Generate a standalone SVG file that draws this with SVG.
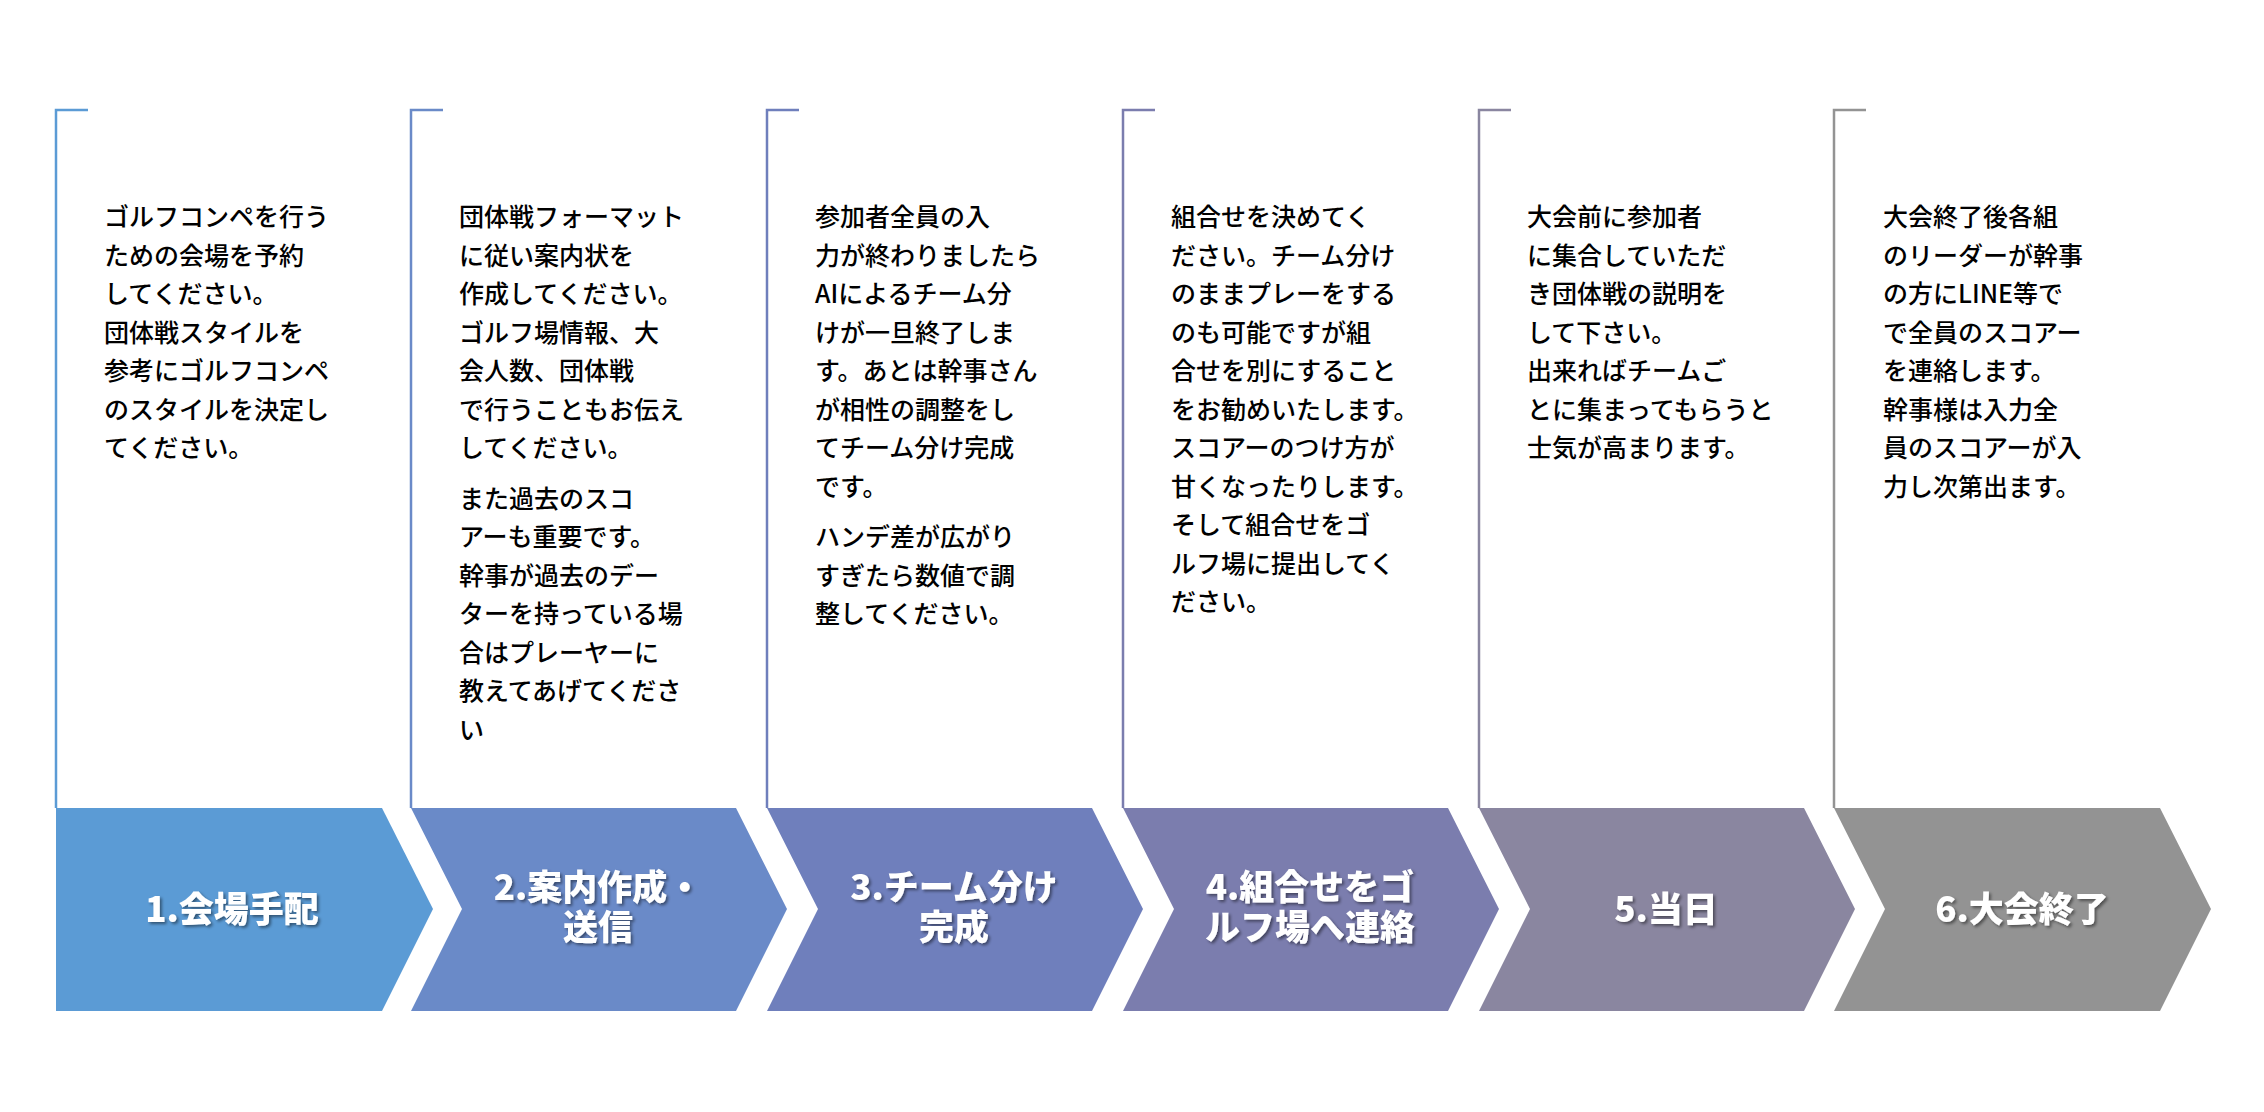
<svg xmlns="http://www.w3.org/2000/svg" width="2264" height="1112" viewBox="0 0 2264 1112">
<defs>
<style>
.t{font-family:"Noto Sans CJK JP","Liberation Sans",sans-serif;font-size:25px;font-weight:500;fill:#000}
.l{font-family:"Noto Sans CJK JP","Liberation Sans",sans-serif;font-size:35px;font-weight:900;fill:#fff;text-anchor:middle;filter:url(#sh)}
.b{fill:none;stroke-width:2.5}
</style>
<filter id="sh" x="-10%" y="-20%" width="130%" height="150%"><feDropShadow dx="2" dy="2" stdDeviation="1.5" flood-color="#000" flood-opacity="0.45"/></filter>
</defs>
<rect width="2264" height="1112" fill="#fff"/>
<g id="connectors">
<path class="b" stroke="#5B9BD5" d="M88,110 H56 V808"/>
<path class="b" stroke="#6A8AC8" d="M443,110 H411 V808"/>
<path class="b" stroke="#6F7FBC" d="M799,110 H767 V808"/>
<path class="b" stroke="#7B7DAE" d="M1155,110 H1123 V808"/>
<path class="b" stroke="#8A86A0" d="M1511,110 H1479 V808"/>
<path class="b" stroke="#939393" d="M1866,110 H1834 V808"/>
</g>
<g id="step1">
<polygon fill="#5B9BD5" points="56,808 382,808 433,909 382,1011 56,1011"/>
<text class="l" x="232" y="922">1.会場手配</text>
<text class="t"><tspan x="104" y="226">ゴルフコンペを行う</tspan><tspan x="104" dy="38.5">ための会場を予約</tspan><tspan x="104" dy="38.5">してください。</tspan><tspan x="104" dy="38.5">団体戦スタイルを</tspan><tspan x="104" dy="38.5">参考にゴルフコンペ</tspan><tspan x="104" dy="38.5">のスタイルを決定し</tspan><tspan x="104" dy="38.5">てください。</tspan></text>
</g>
<g id="step2">
<polygon fill="#6A8AC8" points="411,808 736,808 787,909 736,1011 411,1011 462,909"/>
<text class="l" x="598" y="900">2.案内作成・</text>
<text class="l" x="598" y="940">送信</text>
<text class="t"><tspan x="459" y="226">団体戦フォーマット</tspan><tspan x="459" dy="38.5">に従い案内状を</tspan><tspan x="459" dy="38.5">作成してください。</tspan><tspan x="459" dy="38.5">ゴルフ場情報、大</tspan><tspan x="459" dy="38.5">会人数、団体戦</tspan><tspan x="459" dy="38.5">で行うこともお伝え</tspan><tspan x="459" dy="38.5">してください。</tspan><tspan x="459" dy="50.5">また過去のスコ</tspan><tspan x="459" dy="38.5">アーも重要です。</tspan><tspan x="459" dy="38.5">幹事が過去のデー</tspan><tspan x="459" dy="38.5">ターを持っている場</tspan><tspan x="459" dy="38.5">合はプレーヤーに</tspan><tspan x="459" dy="38.5">教えてあげてくださ</tspan><tspan x="459" dy="38.5">い</tspan></text>
</g>
<g id="step3">
<polygon fill="#6F7FBC" points="767,808 1092,808 1143,909 1092,1011 767,1011 818,909"/>
<text class="l" x="954" y="900">3.チーム分け</text>
<text class="l" x="954" y="940">完成</text>
<text class="t"><tspan x="815" y="226">参加者全員の入</tspan><tspan x="815" dy="38.5">力が終わりましたら</tspan><tspan x="815" dy="38.5">AIによるチーム分</tspan><tspan x="815" dy="38.5">けが一旦終了しま</tspan><tspan x="815" dy="38.5">す。あとは幹事さん</tspan><tspan x="815" dy="38.5">が相性の調整をし</tspan><tspan x="815" dy="38.5">てチーム分け完成</tspan><tspan x="815" dy="38.5">です。</tspan><tspan x="815" dy="50.5">ハンデ差が広がり</tspan><tspan x="815" dy="38.5">すぎたら数値で調</tspan><tspan x="815" dy="38.5">整してください。</tspan></text>
</g>
<g id="step4">
<polygon fill="#7B7DAE" points="1123,808 1448,808 1499,909 1448,1011 1123,1011 1174,909"/>
<text class="l" x="1310" y="900">4.組合せをゴ</text>
<text class="l" x="1310" y="940">ルフ場へ連絡</text>
<text class="t"><tspan x="1171" y="226">組合せを決めてく</tspan><tspan x="1171" dy="38.5">ださい。チーム分け</tspan><tspan x="1171" dy="38.5">のままプレーをする</tspan><tspan x="1171" dy="38.5">のも可能ですが組</tspan><tspan x="1171" dy="38.5">合せを別にすること</tspan><tspan x="1171" dy="38.5">をお勧めいたします。</tspan><tspan x="1171" dy="38.5">スコアーのつけ方が</tspan><tspan x="1171" dy="38.5">甘くなったりします。</tspan><tspan x="1171" dy="38.5">そして組合せをゴ</tspan><tspan x="1171" dy="38.5">ルフ場に提出してく</tspan><tspan x="1171" dy="38.5">ださい。</tspan></text>
</g>
<g id="step5">
<polygon fill="#8A86A0" points="1479,808 1804,808 1855,909 1804,1011 1479,1011 1530,909"/>
<text class="l" x="1666" y="922">5.当日</text>
<text class="t"><tspan x="1527" y="226">大会前に参加者</tspan><tspan x="1527" dy="38.5">に集合していただ</tspan><tspan x="1527" dy="38.5">き団体戦の説明を</tspan><tspan x="1527" dy="38.5">して下さい。</tspan><tspan x="1527" dy="38.5">出来ればチームご</tspan><tspan x="1527" dy="38.5">とに集まってもらうと</tspan><tspan x="1527" dy="38.5">士気が高まります。</tspan></text>
</g>
<g id="step6">
<polygon fill="#939393" points="1834,808 2160,808 2211,909 2160,1011 1834,1011 1885,909"/>
<text class="l" x="2022" y="922">6.大会終了</text>
<text class="t"><tspan x="1883" y="226">大会終了後各組</tspan><tspan x="1883" dy="38.5">のリーダーが幹事</tspan><tspan x="1883" dy="38.5">の方にLINE等で</tspan><tspan x="1883" dy="38.5">で全員のスコアー</tspan><tspan x="1883" dy="38.5">を連絡します。</tspan><tspan x="1883" dy="38.5">幹事様は入力全</tspan><tspan x="1883" dy="38.5">員のスコアーが入</tspan><tspan x="1883" dy="38.5">力し次第出ます。</tspan></text>
</g>
</svg>
